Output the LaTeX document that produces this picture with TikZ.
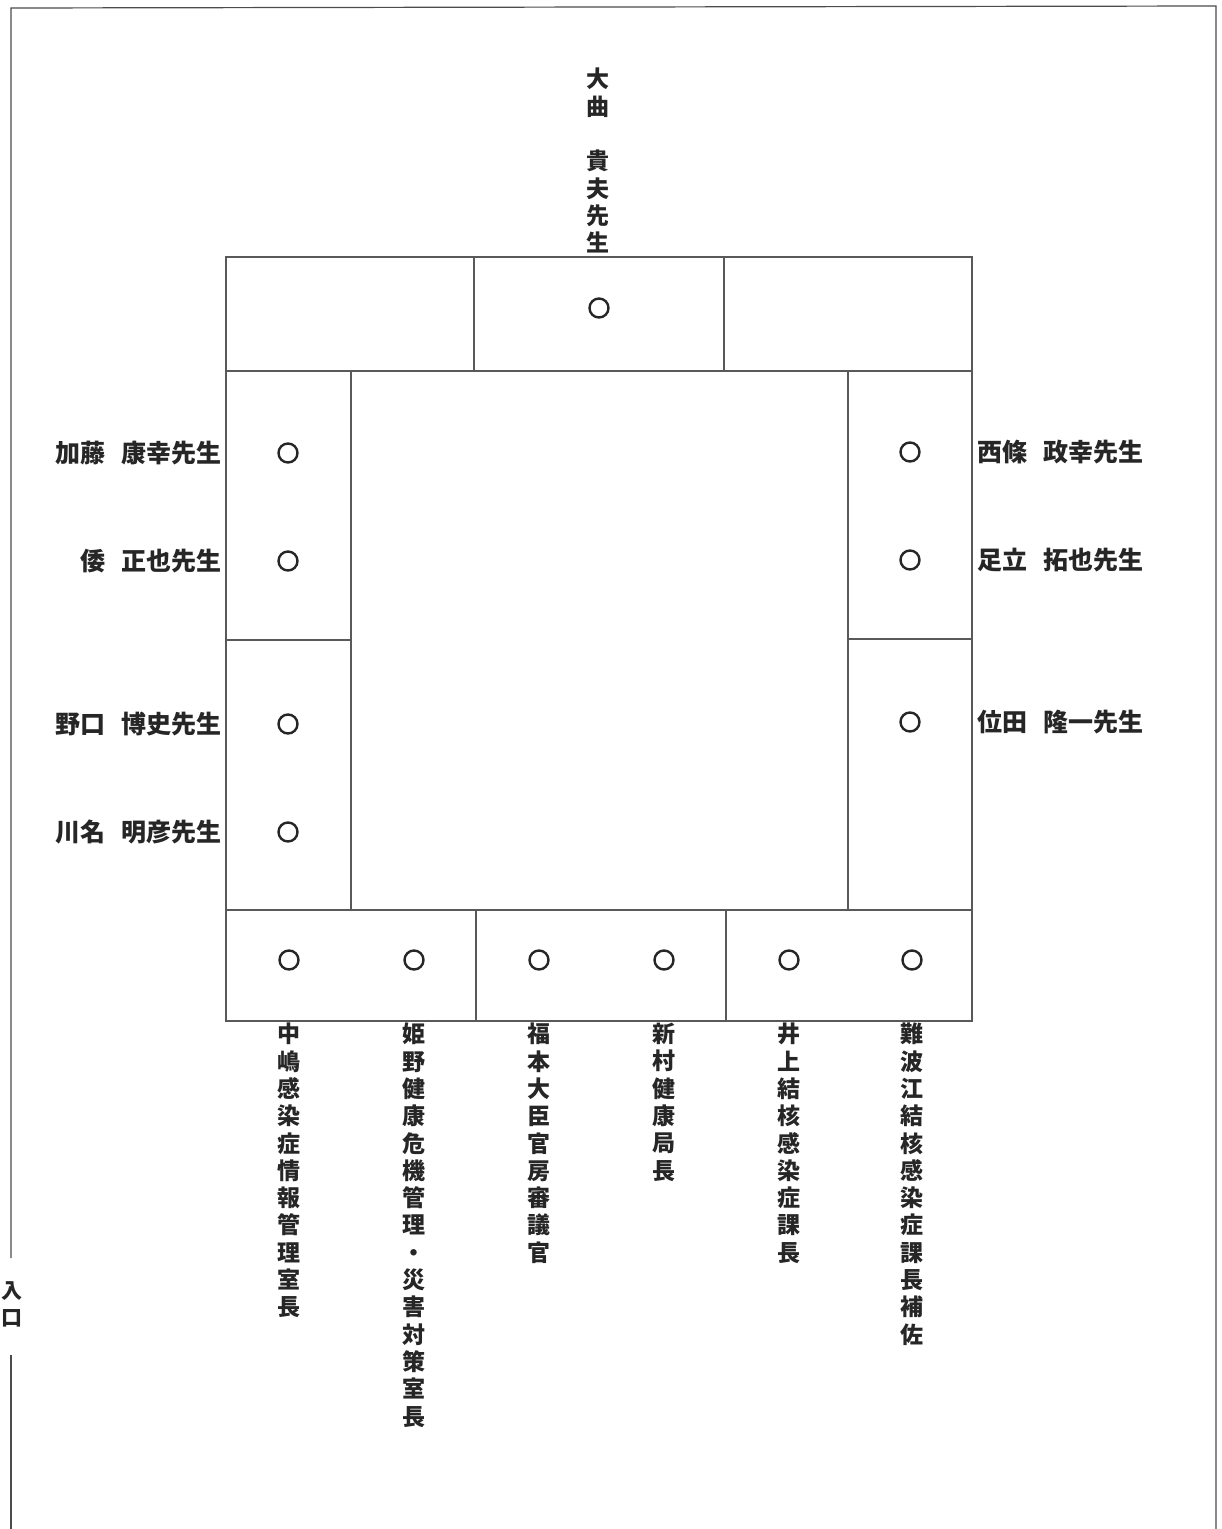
\documentclass[tikz,border=0pt]{standalone}
\usepackage{fontspec}
\newfontfamily\jp{Noto Sans CJK JP}
\newcommand{\gapsp}{\hspace{16pt}}
\tikzset{
  frame/.style={draw=black!70, line width=1.2pt},
  tbl/.style={draw=black!65, line width=1.3pt},
  seat/.style={circle, draw=black!85, line width=2.4pt, minimum size=19pt, inner sep=0pt},
  hlabel/.style={font=\jp\bfseries\fontsize{25}{27}\selectfont, text=black!85, inner sep=0pt},
  vlabel/.style={font=\jp\bfseries\fontsize{23}{27.3}\selectfont, text=black!85, align=center, inner sep=0pt, anchor=north},
}
\begin{document}
\begin{tikzpicture}[x=1pt,y=-1pt]
\useasboundingbox[fill=white] (0,0) rectangle (1222,1529);
% outer frame
\draw[frame] (11,1529) -- (11,1355);
\draw[frame] (11,1258) -- (11,8) -- (1216,6) -- (1216,1529);
\node[vlabel, font=\jp\bfseries\fontsize{21}{27}\selectfont] (entr) at (12,1281) {入\\口};
% table
\draw[tbl] (226,257) rectangle (972,1021);
\draw[tbl] (226,371) -- (972,371);
\draw[tbl] (226,910) -- (972,910);
\draw[tbl] (474,257) -- (474,371);
\draw[tbl] (724,257) -- (724,371);
\draw[tbl] (351,371) -- (351,910);
\draw[tbl] (848,371) -- (848,910);
\draw[tbl] (226,640) -- (351,640);
\draw[tbl] (848,639) -- (972,639);
\draw[tbl] (476,910) -- (476,1021);
\draw[tbl] (726,910) -- (726,1021);
% seats
\node[seat] (t1) at (599,308) {};
\node[seat] (l1) at (288,453) {};
\node[seat] (l2) at (288,561) {};
\node[seat] (l3) at (288,724) {};
\node[seat] (l4) at (288,832) {};
\node[seat] (r1) at (910,452) {};
\node[seat] (r2) at (910,560) {};
\node[seat] (r3) at (910,722) {};
\node[seat] (b1) at (289,960) {};
\node[seat] (b2) at (414,960) {};
\node[seat] (b3) at (539,960) {};
\node[seat] (b4) at (664,960) {};
\node[seat] (b5) at (789,960) {};
\node[seat] (b6) at (912,960) {};
% top label
\node[vlabel] (tl) at (598,68) {大\\曲\\　\\貴\\夫\\先\\生};
% left labels
\node[hlabel, anchor=east] (ll1) at (222,453) {加藤\gapsp 康幸先生};
\node[hlabel, anchor=east] (ll2) at (222,561) {倭\gapsp 正也先生};
\node[hlabel, anchor=east] (ll3) at (222,724) {野口\gapsp 博史先生};
\node[hlabel, anchor=east] (ll4) at (222,832) {川名\gapsp 明彦先生};
% right labels
\node[hlabel, anchor=west] (rl1) at (977,452) {西條\gapsp 政幸先生};
\node[hlabel, anchor=west] (rl2) at (977,560) {足立\gapsp 拓也先生};
\node[hlabel, anchor=west] (rl3) at (977,722) {位田\gapsp 隆一先生};
% bottom labels
\node[vlabel] (bl1) at (289,1023) {中\\嶋\\感\\染\\症\\情\\報\\管\\理\\室\\長};
\node[vlabel] (bl2) at (414,1023) {姫\\野\\健\\康\\危\\機\\管\\理\\・\\災\\害\\対\\策\\室\\長};
\node[vlabel] (bl3) at (539,1023) {福\\本\\大\\臣\\官\\房\\審\\議\\官};
\node[vlabel] (bl4) at (664,1023) {新\\村\\健\\康\\局\\長};
\node[vlabel] (bl5) at (789,1023) {井\\上\\結\\核\\感\\染\\症\\課\\長};
\node[vlabel] (bl6) at (912,1023) {難\\波\\江\\結\\核\\感\\染\\症\\課\\長\\補\\佐};
\end{tikzpicture}
\end{document}
